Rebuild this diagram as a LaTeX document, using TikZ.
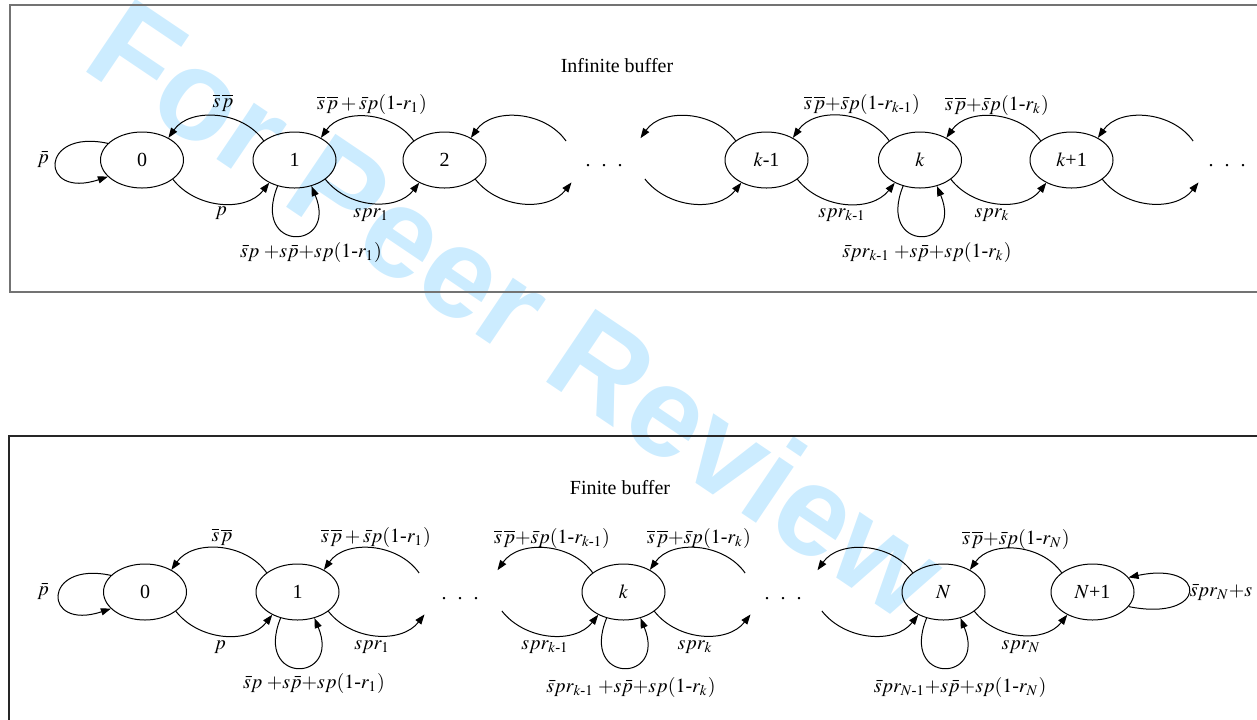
\documentclass[tikz,border=0pt]{standalone}
\usepackage{amsmath}
\usepackage{mathptmx}
\usepackage{fontspec}
\setmainfont{Liberation Serif}
\newfontfamily\wmfont{Liberation Sans}
\usetikzlibrary{shapes.geometric,arrows.meta}

\definecolor{wmblue}{RGB}{204,236,255}
\newcommand{\ssbar}{\overline{s}\mkern1.5mu\overline{p}}
\tikzset{
  state/.style={ellipse,draw,line width=0.5pt,minimum width=41.5pt,minimum height=28pt,inner sep=0pt},
  trans/.style={-{Triangle[length=5pt,width=3.6pt]},line width=0.5pt},
  frame/.style={line width=1pt}
}

\begin{document}
\begin{tikzpicture}[x=0.5pt,y=0.5pt]
        \useasboundingbox (0,0) rectangle (1257,-719);
        \clip (0,0) rectangle (1257,-719);
        % watermark
        \node [rotate=-34,text=wmblue,font=\wmfont\bfseries\fontsize{64}{64}\selectfont] (wm) at (518,-308) {For Peer Review};
        % frames
        \draw [frame,black!55] (10,-5) rectangle (1270,-292);
        \draw [frame,black!85] (9,-436) rectangle (1270,-730);

        % infinite buffer
        \node (tinf) at (617,-66) {Infinite buffer};
        \node [state] (n0) at (142,-160) {0};
        \node [state] (n1) at (294.5,-160) {1};
        \node [state] (n2) at (444.5,-160) {2};
        \node [state] (nkm) at (766.5,-160) {$k$-1};
        \node [state] (nk) at (920,-160) {$k$};
        \node [state] (nkp) at (1071.5,-160) {$k$+1};
        \node [anchor=base] (tdots1) at (604,-166) {.\hspace{5.5pt}.\hspace{5.5pt}.};
        \node [anchor=base] (tdots2) at (1227,-166) {.\hspace{5.5pt}.\hspace{5.5pt}.};
        \coordinate (n2rt) at (566,-141);
        \coordinate (n2rb) at (571.5,-182.4);
        \coordinate (nkmlt) at (640.5,-138.2);
        \coordinate (nkmlb) at (644.9,-179);
        \coordinate (nkprt) at (1193.1,-141);
        \coordinate (nkprb) at (1198.5,-182.4);

        \draw [trans] (n0.154) .. controls +(-69,15) and +(-69,-23) .. (n0.206);
        \draw [trans] (n1.148) to [out=125,in=55] (n0.40);
        \draw [trans] (n0.-32) to [out=-52,in=-128] (n1.-138);
        \draw [trans] (n1.237) .. controls +(-27,-67) and +(27,-65) .. (n1.-57);
        \draw [trans] (n2.148) to [out=125,in=55] (n1.40);
        \draw [trans] (n1.-32) to [out=-52,in=-128] (n2.-138);
        \draw [trans] (n2rt) to [out=125,in=55] (n2.40);
        \draw [trans] (n2.-32) to [out=-52,in=-128] (n2rb);
        \draw [trans] (nkm.148) to [out=125,in=55] (nkmlt);
        \draw [trans] (nkmlb) to [out=-52,in=-128] (nkm.-138);
        \draw [trans] (nk.148) to [out=125,in=55] (nkm.40);
        \draw [trans] (nkm.-32) to [out=-52,in=-128] (nk.-138);
        \draw [trans] (nk.237) .. controls +(-27,-67) and +(27,-65) .. (nk.-57);
        \draw [trans] (nkp.148) to [out=125,in=55] (nk.40);
        \draw [trans] (nk.-32) to [out=-52,in=-128] (nkp.-138);
        \draw [trans] (nkprt) to [out=125,in=55] (nkp.40);
        \draw [trans] (nkp.-32) to [out=-52,in=-128] (nkprb);

        \node (tl00) at (43,-160) {$\bar{p}$};
        \node (tl10) at (223,-103) {$\ssbar$};
        \node (tl21) at (372,-104) {$\ssbar+\bar{s}p(1\text{-}r_1)$};
        \node (tl01) at (221,-213) {$p$};
        \node (tl12) at (371,-215) {$spr_1$};
        \node (tl11) at (311,-252) {$\bar{s}p\;{+}s\bar{p}{+}sp(1\text{-}r_1)$};
        \node (tlkkm) at (862,-104) {$\ssbar{+}\bar{s}p(1\text{-}r_{k\text{-}1})$};
        \node (tlkpk) at (997,-105) {$\ssbar{+}\bar{s}p(1\text{-}r_k)$};
        \node (tlkmk) at (842,-215) {$spr_{k\text{-}1}$};
        \node (tlkkp) at (992,-215) {$spr_k$};
        \node (tlkk) at (927,-252) {$\bar{s}pr_{k\text{-}1}\;{+}s\bar{p}{+}sp(1\text{-}r_k)$};

        % finite buffer
        \node (tfin) at (620,-488) {Finite buffer};
        \node [state] (m0) at (145,-592) {0};
        \node [state] (m1) at (297.5,-592) {1};
        \node [state] (mk) at (623.5,-592) {$k$};
        \node [state] (mN) at (943.5,-592) {$N$};
        \node [state] (mNp) at (1092.5,-592) {$N$+1};
        \node [anchor=base] (bdots1) at (460,-599) {.\hspace{5.5pt}.\hspace{5.5pt}.};
        \node [anchor=base] (bdots2) at (783,-599) {.\hspace{5.5pt}.\hspace{5.5pt}.};
        \coordinate (m1rt) at (419.1,-573);
        \coordinate (m1rb) at (424.5,-614.4);
        \coordinate (mklt) at (497.5,-570.2);
        \coordinate (mklb) at (501.9,-611);
        \coordinate (mkrt) at (745.1,-573);
        \coordinate (mkrb) at (750.5,-614.4);
        \coordinate (mNlt) at (817.5,-570.2);
        \coordinate (mNlb) at (821.9,-611);

        \draw [trans] (m0.154) .. controls +(-69,15) and +(-69,-23) .. (m0.206);
        \draw [trans] (m1.148) to [out=125,in=55] (m0.40);
        \draw [trans] (m0.-32) to [out=-52,in=-128] (m1.-138);
        \draw [trans] (m1.237) .. controls +(-27,-67) and +(27,-65) .. (m1.-57);
        \draw [trans] (m1rt) to [out=125,in=55] (m1.40);
        \draw [trans] (m1.-32) to [out=-52,in=-128] (m1rb);
        \draw [trans] (mk.148) to [out=125,in=55] (mklt);
        \draw [trans] (mklb) to [out=-52,in=-128] (mk.-138);
        \draw [trans] (mk.237) .. controls +(-27,-67) and +(27,-65) .. (mk.-57);
        \draw [trans] (mkrt) to [out=125,in=55] (mk.40);
        \draw [trans] (mk.-32) to [out=-52,in=-128] (mkrb);
        \draw [trans] (mN.148) to [out=125,in=55] (mNlt);
        \draw [trans] (mNlb) to [out=-52,in=-128] (mN.-138);
        \draw [trans] (mN.237) .. controls +(-27,-67) and +(27,-65) .. (mN.-57);
        \draw [trans] (mNp.148) to [out=125,in=55] (mN.40);
        \draw [trans] (mN.-32) to [out=-52,in=-128] (mNp.-138);
        \draw [trans] (mNp.-22) .. controls +(80,-16) and +(80,17) .. (mNp.22);

        \node (bl00) at (43,-592) {$\bar{p}$};
        \node (bl10) at (222,-537) {$\ssbar$};
        \node (bl21) at (376,-537) {$\ssbar+\bar{s}p(1\text{-}r_1)$};
        \node (bl01) at (220,-647) {$p$};
        \node (bl12) at (372,-647) {$spr_1$};
        \node (bl11) at (314,-683) {$\bar{s}p\;{+}s\bar{p}{+}sp(1\text{-}r_1)$};
        \node (blkkm) at (552,-538) {$\ssbar{+}\bar{s}p(1\text{-}r_{k\text{-}1})$};
        \node (blkpk) at (699,-538) {$\ssbar{+}\bar{s}p(1\text{-}r_k)$};
        \node (blkmk) at (545,-647) {$spr_{k\text{-}1}$};
        \node (blkkp) at (695,-647) {$spr_k$};
        \node (blkk) at (631,-687) {$\bar{s}pr_{k\text{-}1}\;{+}s\bar{p}{+}sp(1\text{-}r_k)$};
        \node (blNpN) at (1016,-539) {$\ssbar{+}\bar{s}p(1\text{-}r_N)$};
        \node (blNNp) at (1021,-647) {$spr_N$};
        \node (blNN) at (960,-687) {$\bar{s}pr_{N\text{-}1}{+}s\bar{p}{+}sp(1\text{-}r_N)$};
        \node (blNpNp) at (1221,-593) {$\bar{s}pr_N{+}s$};
\end{tikzpicture}
\end{document}
